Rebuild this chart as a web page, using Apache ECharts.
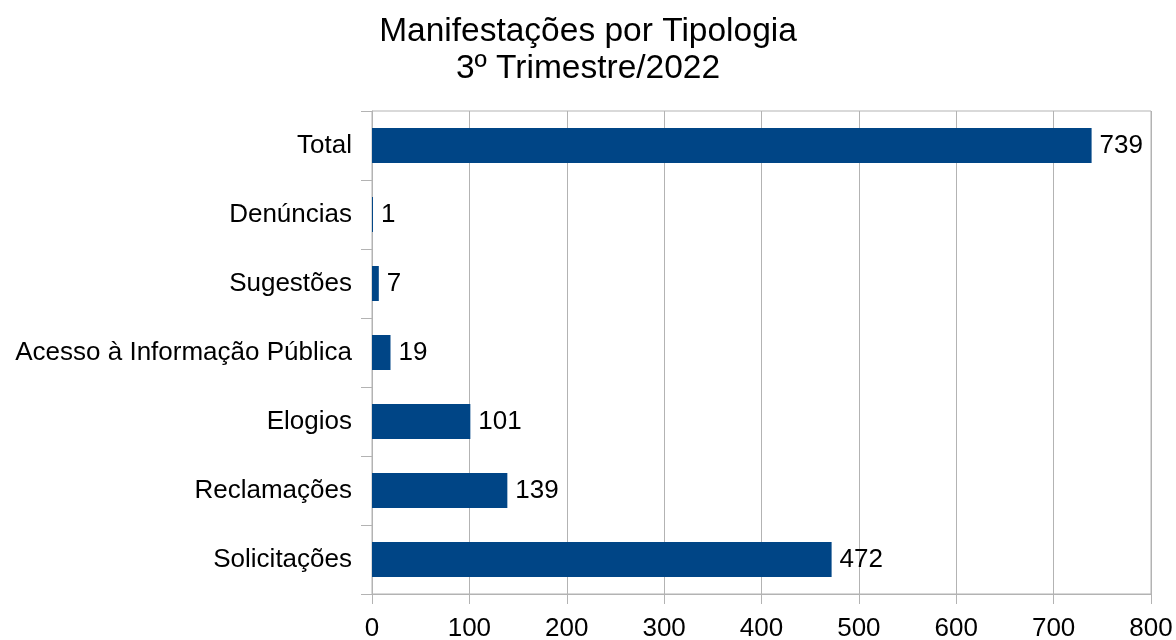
<!DOCTYPE html>
<html>
<head>
<meta charset="utf-8">
<script src="https://cdn.jsdelivr.net/npm/echarts@6/dist/echarts.min.js"></script>
<style>html,body{margin:0;padding:0;background:#fff;}#c{width:1176px;height:640px;}</style>
</head>
<body>
<div id="c"></div>
<script>
const titleLines = ['Manifestações por Tipologia', '3º Trimestre/2022'];
const categories = ['Total', 'Denúncias', 'Sugestões', 'Acesso à Informação Pública', 'Elogios', 'Reclamações', 'Solicitações'];
const values = [739, 1, 7, 19, 101, 139, 472];
const xTicks = { min: 0, max: 800, interval: 100 };

const font = 'Liberation Sans, Arial, sans-serif';
const chart = echarts.init(document.getElementById('c'), null, { renderer: 'canvas' });
chart.setOption({
  backgroundColor: '#ffffff',
  animation: false,
  title: {
    text: titleLines.join('\n'),
    left: 583,
    top: 8,
    textAlign: 'center',
    textStyle: { fontFamily: font, fontSize: 33.5, fontWeight: 'normal', color: '#000', lineHeight: 37 }
  },
  grid: { left: 372, right: 25, top: 111, bottom: 46, show: true, borderColor: '#b3b3b3', borderWidth: 1, outerBoundsMode: 'none', containLabel: false },
  xAxis: {
    type: 'value', min: xTicks.min, max: xTicks.max, interval: xTicks.interval,
    axisLine: { show: true, lineStyle: { color: '#b3b3b3' } },
    axisTick: { show: true, length: 10, lineStyle: { color: '#b3b3b3' } },
    splitLine: { show: true, lineStyle: { color: '#b3b3b3' } },
    axisLabel: { color: '#000', fontFamily: font, fontSize: 26, margin: 22 }
  },
  yAxis: {
    type: 'category', data: categories, inverse: true,
    axisLine: { show: true, lineStyle: { color: '#b3b3b3' } },
    axisTick: { show: true, length: 11, alignWithLabel: false, lineStyle: { color: '#b3b3b3' } },
    axisLabel: { color: '#000', fontFamily: font, fontSize: 26, margin: 20, padding: [5, 0, 0, 0] }
  },
  series: [{
    type: 'bar', data: values, barWidth: 35,
    itemStyle: { color: '#004586' },
    label: { show: true, position: 'right', distance: 8, color: '#000', fontFamily: font, fontSize: 26, padding: [5, 0, 0, 0] }
  }]
});
</script>
</body>
</html>
